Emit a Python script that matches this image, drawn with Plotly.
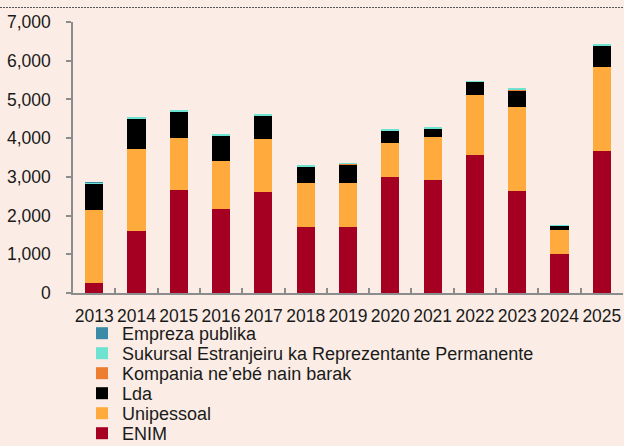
import plotly.graph_objects as go

years = ["2013", "2014", "2015", "2016", "2017", "2018", "2019",
         "2020", "2021", "2022", "2023", "2024", "2025"]

enim = [270, 1610, 2660, 2170, 2620, 1710, 1705, 3000, 2920, 3560, 2635, 1015, 3670]
unipessoal = [1870, 2100, 1345, 1240, 1370, 1140, 1135, 880, 1120, 1565, 2180, 605, 2180]
lda = [700, 785, 690, 665, 600, 425, 485, 330, 215, 335, 425, 120, 555]
kompania = [0, 0, 0, 0, 0, 5, 10, 0, 0, 0, 10, 0, 0]
sukursal = [15, 30, 30, 30, 10, 5, 5, 10, 20, 15, 25, 15, 35]
empreza = [5, 0, 0, 0, 0, 0, 0, 0, 0, 0, 0, 0, 0]

series_names = ["ENIM", "Unipessoal", "Lda", "Kompania ne\u2019ebé nain barak",
                "Sukursal Estranjeiru ka Reprezentante Permanente", "Empreza publika"]
series_values = [enim, unipessoal, lda, kompania, sukursal, empreza]
series_colors = ["#A50021", "#FFAA3C", "#000000", "#ED7D31", "#6FE3D2", "#3A8AA8"]

BG = "#FBEDE5"
W, H = 624, 446
# legend row centers (pixels from top), ENIM at bottom
row_y = [433.5, 413.5, 393.5, 373.5, 353.5, 333.5]

fig = go.Figure()
for i, (name, vals, col) in enumerate(zip(series_names, series_values, series_colors)):
    fig.add_trace(go.Bar(
        x=years, y=vals, name=name,
        marker=dict(color=col, line=dict(width=0)),
        legend="legend" if i == 0 else f"legend{i+1}",
        showlegend=True,
    ))

layout_legends = {}
for i in range(len(series_names)):
    key = "legend" if i == 0 else f"legend{i+1}"
    layout_legends[key] = dict(
        x=82 / W, xref="container", xanchor="left",
        y=1 - row_y[i] / H, yref="container", yanchor="middle",
        bgcolor="rgba(0,0,0,0)", borderwidth=0,
        font=dict(size=18, color="#1a1a1a"),
    )

fig.update_layout(
    width=W, height=H,
    margin=dict(l=73, r=1, t=22, b=153, autoexpand=False),
    paper_bgcolor=BG, plot_bgcolor=BG,
    barmode="stack", bargap=0.57,
    showlegend=True,
    font=dict(family="Liberation Sans, Arial, sans-serif", color="#1a1a1a", size=17.5),
    **layout_legends,
)

fig.update_xaxes(
    type="category", tickson="boundaries", ticks="inside", ticklen=5,
    tickcolor="#8c8c8c", tickwidth=2, tickangle=0,
    showline=True, linecolor="#8c8c8c", linewidth=2,
    showgrid=False, tickfont=dict(size=17.5), ticklabelstandoff=6,
)
fig.update_yaxes(
    range=[0, 7000], dtick=1000, tickformat=",",
    ticks="outside", ticklen=5, tickcolor="#8c8c8c", tickwidth=1.5,
    showline=True, linecolor="#8c8c8c", linewidth=1.5,
    showgrid=False, zeroline=False, tickfont=dict(size=17.5), ticklabelstandoff=12,
)

# dotted top rule
fig.add_shape(type="line", xref="paper", yref="paper", layer="above",
              x0=-73 / 550, x1=1 + 1 / 550, y0=(293 - 7.5) / 271, y1=(293 - 7.5) / 271,
              line=dict(color="#555555", width=1.2, dash="2px,1px"))

fig.write_html(
    "out.html",
    config={"displayModeBar": False},
    post_script="document.body.style.margin='0';document.body.style.background='%s';" % BG,
)
